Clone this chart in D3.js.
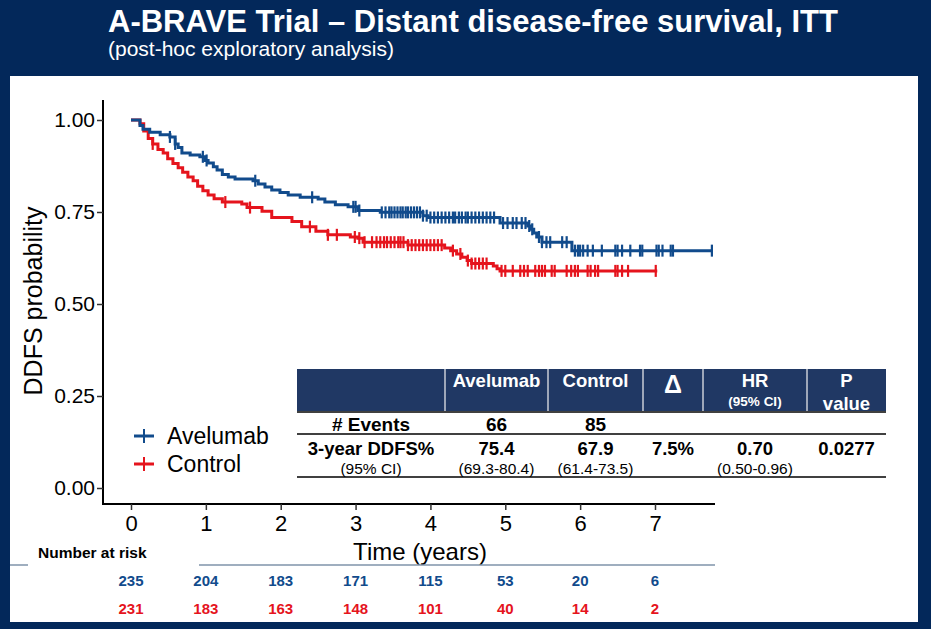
<!DOCTYPE html>
<html><head><meta charset="utf-8">
<script src="https://cdn.jsdelivr.net/npm/d3@7"></script>
<style>
html,body{margin:0;padding:0;background:#03285a;}
svg{display:block;font-family:"Liberation Sans",Arial,Helvetica,sans-serif;}
</style></head>
<body>
<svg id="chart" width="931" height="629"></svg>
<script>
// ---------- DATA ----------
const seriesNames = ["Avelumab", "Control"];
const xTicks = [0, 1, 2, 3, 4, 5, 6, 7];
const yTicks = [0, 0.25, 0.5, 0.75, 1];
// Kaplan-Meier steps: [time (years), survival after drop]
const avelumabSteps = [
  [0,1],[0.12,0.985],[0.16,0.975],[0.25,0.967],[0.39,0.96],[0.52,0.954],[0.59,0.935],[0.63,0.925],
  [0.68,0.91],[0.79,0.905],[0.92,0.90],[0.99,0.89],[1.03,0.883],[1.10,0.873],[1.15,0.864],[1.22,0.852],
  [1.30,0.845],[1.39,0.84],[1.63,0.835],[1.70,0.826],[1.79,0.818],[1.88,0.81],[1.99,0.803],[2.10,0.796],
  [2.26,0.79],[2.50,0.785],[2.59,0.777],[2.73,0.77],[2.90,0.764],[3.03,0.754],[3.33,0.749],[3.90,0.740],
  [3.97,0.735],[4.93,0.72],[5.30,0.712],[5.34,0.703],[5.38,0.693],[5.42,0.682],[5.49,0.668],[5.89,0.645]
];
const avelumabEnd = 7.76;
const controlSteps = [
  [0,1],[0.12,0.99],[0.17,0.97],[0.23,0.95],[0.29,0.935],[0.36,0.92],[0.43,0.91],[0.49,0.895],[0.56,0.882],
  [0.63,0.87],[0.69,0.858],[0.76,0.845],[0.83,0.835],[0.89,0.82],[0.96,0.808],[1.03,0.796],[1.11,0.786],
  [1.22,0.777],[1.48,0.772],[1.55,0.762],[1.75,0.752],[1.88,0.735],[2.15,0.724],[2.28,0.71],[2.47,0.698],
  [2.63,0.688],[2.93,0.682],[3.03,0.679],[3.10,0.668],[3.70,0.66],[4.19,0.652],[4.27,0.645],[4.35,0.636],
  [4.42,0.627],[4.49,0.618],[4.55,0.61],[4.84,0.603],[4.89,0.596],[4.93,0.59]
];
const controlEnd = 7.03;
const avelumabCensor = [0.52,0.59,0.96,1.01,1.66,2.42,2.97,3.0,3.05,3.35,3.4,3.45,3.48,3.52,3.56,3.6,3.63,3.67,3.7,
  3.74,3.78,3.82,3.86,3.9,3.95,4.0,4.05,4.1,4.15,4.2,4.25,4.3,4.33,4.38,4.42,4.47,4.5,4.55,4.6,4.65,4.7,4.75,4.8,
  4.85,4.97,5.03,5.1,5.15,5.22,5.27,5.32,5.36,5.45,5.49,5.55,5.6,5.76,5.82,5.93,5.97,6.0,6.04,6.1,6.17,6.29,6.47,
  6.5,6.56,6.67,6.8,6.83,7.02,7.05,7.1,7.21,7.24,7.76];
const controlCensor = [0.29,1.26,1.59,2.39,2.63,2.75,2.99,3.05,3.12,3.22,3.28,3.33,3.38,3.42,3.47,3.52,3.57,3.6,
  3.64,3.7,3.75,3.8,3.85,3.9,3.95,4.0,4.05,4.1,4.15,4.3,4.4,4.5,4.55,4.6,4.65,4.7,4.75,4.95,5.0,5.1,5.2,5.25,5.3,
  5.4,5.45,5.49,5.53,5.62,5.66,5.82,5.88,5.93,5.97,6.1,6.14,6.2,6.24,6.47,6.5,6.56,6.64,7.01];
const atRiskAvelumab = [235, 204, 183, 171, 115, 53, 20, 6];
const atRiskControl = [231, 183, 163, 148, 101, 40, 14, 2];
const tableHeader = ["", "Avelumab", "Control", "Δ", "HR", "P"];
const tableHeaderSub = ["", "", "", "", "(95% CI)", "value"];
const rowEvents = ["# Events", "66", "85", "", "", ""];
const rowDDFS = ["3-year DDFS%", "75.4", "67.9", "7.5%", "0.70", "0.0277"];
const rowCI = ["(95% CI)", "(69.3-80.4)", "(61.4-73.5)", "", "(0.50-0.96)", ""];

// ---------- LAYOUT ----------
const colors = {Avelumab: "#114b8c", Control: "#e5141d"};
const svg = d3.select("#chart");
svg.append("rect").attr("width",931).attr("height",629).attr("fill","#03285a");
svg.append("rect").attr("x",10).attr("y",76).attr("width",908).attr("height",546).attr("fill","#ffffff");

svg.append("text").attr("x",108).attr("y",32).attr("fill","#fff").attr("font-weight","bold")
  .attr("font-size",31).text("A-BRAVE Trial – Distant disease-free survival, ITT");
svg.append("text").attr("x",108).attr("y",56).attr("fill","#fff")
  .attr("font-size",21).text("(post-hoc exploratory analysis)");

const x = d3.scaleLinear().domain([0,7]).range([131,655]);
const y = d3.scaleLinear().domain([0,1]).range([488,120]);

// axes
const gx = svg.append("g").attr("transform","translate(0,504)");
gx.append("line").attr("x1",103).attr("x2",715).attr("stroke","#000").attr("stroke-width",2);
const xAxis = d3.axisBottom(x).tickValues(xTicks).tickSize(6).tickFormat(d3.format("d"));
const gxa = gx.append("g").call(xAxis);
gxa.select(".domain").remove();
gxa.selectAll(".tick line").attr("stroke","#333").attr("stroke-width",1.5);
gxa.selectAll(".tick text").attr("font-size",22).attr("fill","#000").attr("dy","0.82em")
  .attr("font-family","'Liberation Sans',Arial,sans-serif");

const gy = svg.append("g").attr("transform","translate(103,0)");
gy.append("line").attr("y1",100).attr("y2",505).attr("stroke","#000").attr("stroke-width",2);
const yAxis = d3.axisLeft(y).tickValues(yTicks).tickSize(6).tickFormat(d3.format(".2f"));
const gya = gy.append("g").call(yAxis);
gya.select(".domain").remove();
gya.selectAll(".tick line").attr("stroke","#333").attr("stroke-width",1.5);
gya.selectAll(".tick text").attr("font-size",21).attr("fill","#000").attr("x",-8)
  .attr("font-family","'Liberation Sans',Arial,sans-serif");

svg.append("text").attr("transform","translate(42,301) rotate(-90)").attr("text-anchor","middle")
  .attr("font-size",25).attr("fill","#000").text("DDFS probability");
svg.append("text").attr("x",420).attr("y",560).attr("text-anchor","middle")
  .attr("font-size",24).attr("fill","#000").text("Time (years)");

// curves
function drawKM(steps, endT, censor, color){
  const pts = steps.map(d=>[d[0],d[1]]);
  pts.push([endT, steps[steps.length-1][1]]);
  const line = d3.line().x(d=>x(d[0])).y(d=>y(d[1])).curve(d3.curveStepAfter);
  svg.append("path").attr("d",line(pts)).attr("fill","none").attr("stroke",color)
    .attr("stroke-width",3);
  const bis = d3.bisector(d=>d[0]).right;
  const g = svg.append("g");
  censor.forEach(t=>{
    const i = bis(steps, t) - 1;
    const s = steps[Math.max(0,i)][1];
    g.append("line").attr("x1",x(t)).attr("x2",x(t)).attr("y1",y(s)-6).attr("y2",y(s)+6)
      .attr("stroke",color).attr("stroke-width",2.2);
  });
}
drawKM(controlSteps, controlEnd, controlCensor, colors.Control);
drawKM(avelumabSteps, avelumabEnd, avelumabCensor, colors.Avelumab);

// legend
seriesNames.forEach((n,i)=>{
  const ly = 436 + i*28;
  svg.append("line").attr("x1",134).attr("x2",154).attr("y1",ly).attr("y2",ly)
    .attr("stroke",colors[n]).attr("stroke-width",3);
  svg.append("line").attr("x1",144).attr("x2",144).attr("y1",ly-7).attr("y2",ly+7)
    .attr("stroke",colors[n]).attr("stroke-width",2);
  svg.append("text").attr("x",167).attr("y",ly+8).attr("font-size",23).attr("fill","#000").text(n);
});

// table
const colEdges = [297, 445, 548, 643, 703, 807, 886];
const colMid = colEdges.slice(0,-1).map((e,i)=>(e+colEdges[i+1])/2);
svg.append("rect").attr("x",297).attr("y",369).attr("width",589).attr("height",42).attr("fill","#203864");
colEdges.slice(1,-1).forEach(e=>{
  svg.append("line").attr("x1",e).attr("x2",e).attr("y1",369).attr("y2",411)
    .attr("stroke","#c8ccd6").attr("stroke-width",1.5);
});
tableHeader.forEach((h,i)=>{
  if(!h) return;
  const big = h==="Δ";
  const sub = tableHeaderSub[i];
  svg.append("text").attr("x",colMid[i]).attr("y", big?393: 387).attr("text-anchor","middle")
    .attr("fill","#fff").attr("font-weight","bold").attr("font-size", big?25:18.5).text(h);
  if(sub){
    const small = sub.startsWith("(");
    svg.append("text").attr("x",colMid[i]).attr("y", small?406:410).attr("text-anchor","middle")
      .attr("fill","#fff").attr("font-weight","bold").attr("font-size", small?13.5:18.5).text(sub);
  }
});
svg.append("line").attr("x1",297).attr("x2",886).attr("y1",412).attr("y2",412).attr("stroke","#000").attr("stroke-width",1.5);
rowEvents.forEach((t,i)=>{ if(t) svg.append("text").attr("x",colMid[i]).attr("y",431).attr("text-anchor","middle")
  .attr("font-weight","bold").attr("font-size",19).attr("fill","#000").text(t); });
svg.append("line").attr("x1",297).attr("x2",886).attr("y1",434).attr("y2",434).attr("stroke","#000").attr("stroke-width",1.5);
rowDDFS.forEach((t,i)=>{ if(t) svg.append("text").attr("x",colMid[i]).attr("y",455).attr("text-anchor","middle")
  .attr("font-weight","bold").attr("font-size",18.5).attr("fill","#000").text(t); });
rowCI.forEach((t,i)=>{ if(t) svg.append("text").attr("x",colMid[i]).attr("y",474).attr("text-anchor","middle")
  .attr("font-size",15.5).attr("fill","#000").text(t); });
svg.append("line").attr("x1",297).attr("x2",886).attr("y1",477).attr("y2",477).attr("stroke","#000").attr("stroke-width",1.5);

// number at risk
svg.append("text").attr("x",38).attr("y",558).attr("font-weight","bold").attr("font-size",15.5)
  .attr("fill","#000").text("Number at risk");
svg.append("line").attr("x1",10).attr("x2",28).attr("y1",565).attr("y2",565).attr("stroke","#7f93aa").attr("stroke-width",1.5);
svg.append("line").attr("x1",199).attr("x2",715).attr("y1",565).attr("y2",565).attr("stroke","#7f93aa").attr("stroke-width",1.5);
atRiskAvelumab.forEach((v,i)=>{
  svg.append("text").attr("x",x(xTicks[i])).attr("y",586).attr("text-anchor","middle")
    .attr("font-weight","bold").attr("font-size",15).attr("fill",colors.Avelumab).text(v);
});
atRiskControl.forEach((v,i)=>{
  svg.append("text").attr("x",x(xTicks[i])).attr("y",614).attr("text-anchor","middle")
    .attr("font-weight","bold").attr("font-size",15).attr("fill",colors.Control).text(v);
});
</script>
</body></html>
